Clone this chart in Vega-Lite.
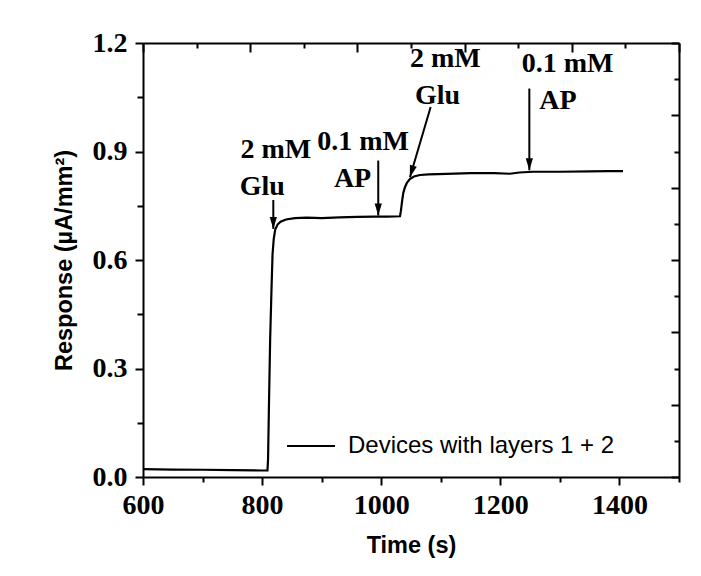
{
  "$schema": "https://vega.github.io/schema/vega-lite/v6.json",
  "width": 536,
  "height": 434,
  "autosize": "none",
  "padding": {"left": 143, "top": 43, "right": 22, "bottom": 99},
  "background": "white",
  "config": {
    "view": {"stroke": null},
    "axis": {
      "labelFont": "Liberation Serif",
      "labelFontWeight": "bold",
      "labelFontSize": 28,
      "labelColor": "black",
      "domainColor": "black",
      "domainWidth": 2,
      "tickColor": "black",
      "tickWidth": 2,
      "titleFont": "Liberation Sans",
      "titleFontWeight": "bold",
      "titleFontSize": 23.5,
      "titleColor": "black",
      "grid": false,
      "labelFlush": false,
      "labelOverlap": false,
      "labelBound": false
    }
  },
  "datasets": {
    "curve": [
      {"time": 600, "response": 0.0215, "series": "Devices with layers 1 + 2"},
      {"time": 650, "response": 0.0205, "series": "Devices with layers 1 + 2"},
      {"time": 700, "response": 0.020, "series": "Devices with layers 1 + 2"},
      {"time": 750, "response": 0.019, "series": "Devices with layers 1 + 2"},
      {"time": 800, "response": 0.018, "series": "Devices with layers 1 + 2"},
      {"time": 809, "response": 0.018, "series": "Devices with layers 1 + 2"},
      {"time": 810, "response": 0.05, "series": "Devices with layers 1 + 2"},
      {"time": 811.5, "response": 0.2, "series": "Devices with layers 1 + 2"},
      {"time": 813.5, "response": 0.38, "series": "Devices with layers 1 + 2"},
      {"time": 815.7, "response": 0.516, "series": "Devices with layers 1 + 2"},
      {"time": 817.5, "response": 0.615, "series": "Devices with layers 1 + 2"},
      {"time": 819.5, "response": 0.658, "series": "Devices with layers 1 + 2"},
      {"time": 822, "response": 0.684, "series": "Devices with layers 1 + 2"},
      {"time": 826, "response": 0.698, "series": "Devices with layers 1 + 2"},
      {"time": 831, "response": 0.706, "series": "Devices with layers 1 + 2"},
      {"time": 840, "response": 0.712, "series": "Devices with layers 1 + 2"},
      {"time": 855, "response": 0.716, "series": "Devices with layers 1 + 2"},
      {"time": 875, "response": 0.717, "series": "Devices with layers 1 + 2"},
      {"time": 900, "response": 0.716, "series": "Devices with layers 1 + 2"},
      {"time": 930, "response": 0.718, "series": "Devices with layers 1 + 2"},
      {"time": 960, "response": 0.719, "series": "Devices with layers 1 + 2"},
      {"time": 990, "response": 0.720, "series": "Devices with layers 1 + 2"},
      {"time": 1010, "response": 0.720, "series": "Devices with layers 1 + 2"},
      {"time": 1031.5, "response": 0.721, "series": "Devices with layers 1 + 2"},
      {"time": 1033, "response": 0.735, "series": "Devices with layers 1 + 2"},
      {"time": 1035, "response": 0.762, "series": "Devices with layers 1 + 2"},
      {"time": 1037, "response": 0.785, "series": "Devices with layers 1 + 2"},
      {"time": 1040, "response": 0.802, "series": "Devices with layers 1 + 2"},
      {"time": 1043, "response": 0.813, "series": "Devices with layers 1 + 2"},
      {"time": 1048, "response": 0.824, "series": "Devices with layers 1 + 2"},
      {"time": 1055, "response": 0.831, "series": "Devices with layers 1 + 2"},
      {"time": 1065, "response": 0.835, "series": "Devices with layers 1 + 2"},
      {"time": 1080, "response": 0.837, "series": "Devices with layers 1 + 2"},
      {"time": 1110, "response": 0.838, "series": "Devices with layers 1 + 2"},
      {"time": 1150, "response": 0.840, "series": "Devices with layers 1 + 2"},
      {"time": 1190, "response": 0.840, "series": "Devices with layers 1 + 2"},
      {"time": 1216, "response": 0.8385, "series": "Devices with layers 1 + 2"},
      {"time": 1232, "response": 0.842, "series": "Devices with layers 1 + 2"},
      {"time": 1255, "response": 0.844, "series": "Devices with layers 1 + 2"},
      {"time": 1300, "response": 0.844, "series": "Devices with layers 1 + 2"},
      {"time": 1350, "response": 0.845, "series": "Devices with layers 1 + 2"},
      {"time": 1380, "response": 0.846, "series": "Devices with layers 1 + 2"},
      {"time": 1406, "response": 0.846, "series": "Devices with layers 1 + 2"}
    ],
    "arrows": [
      {"kind": "vertical", "x1": 818.8, "y1": 0.766, "x2": 818.8, "y2": 0.686},
      {"kind": "vertical", "x1": 995, "y1": 0.875, "x2": 995, "y2": 0.723},
      {"kind": "slanted", "x1": 1083, "y1": 1.023, "x2": 1048.2, "y2": 0.829},
      {"kind": "vertical", "x1": 1248.7, "y1": 1.074, "x2": 1248.7, "y2": 0.848}
    ],
    "notes": [
      {"text": "2 mM", "x": 763.7, "y": 0.881},
      {"text": "Glu", "x": 762.5, "y": 0.779},
      {"text": "0.1 mM", "x": 892.4, "y": 0.903},
      {"text": "AP", "x": 920.5, "y": 0.802},
      {"text": "2 mM", "x": 1048.2, "y": 1.134},
      {"text": "Glu", "x": 1056.6, "y": 1.030},
      {"text": "0.1 mM", "x": 1236, "y": 1.120},
      {"text": "AP", "x": 1265.5, "y": 1.0166}
    ]
  },
  "layer": [
    {
      "data": {"name": "curve"},
      "mark": {"type": "line", "strokeWidth": 2.2},
      "encoding": {
        "x": {
          "field": "time", "type": "quantitative",
          "scale": {"domain": [600, 1500], "nice": false, "zero": false},
          "axis": {
            "orient": "bottom",
            "values": [600, 700, 800, 900, 1000, 1100, 1200, 1300, 1400, 1500],
            "labelExpr": "datum.value % 200 == 0 ? format(datum.value, 'd') : ''",
            "tickSize": {"condition": {"test": "datum.value % 200 == 0", "value": 8}, "value": 5},
            "labelPadding": 6,
            "title": "Time (s)",
            "titlePadding": 14
          }
        },
        "y": {
          "field": "response", "type": "quantitative",
          "scale": {"domain": [0, 1.2], "nice": false, "zero": false},
          "axis": {
            "orient": "left",
            "values": [0, 0.15, 0.3, 0.45, 0.6, 0.75, 0.9, 1.05, 1.2],
            "labelExpr": "round(datum.value * 100) % 30 == 0 ? format(datum.value, '.1f') : ''",
            "tickSize": {"condition": {"test": "round(datum.value * 100) % 30 == 0", "value": 8}, "value": 6},
            "labelPadding": 8,
            "title": "Response (µA/mm²)",
            "titlePadding": 16
          }
        },
        "color": {
          "field": "series", "type": "nominal",
          "scale": {"range": ["black"]},
          "legend": {
            "orient": "none",
            "legendX": 143,
            "legendY": 378,
            "title": null,
            "symbolType": "stroke",
            "symbolSize": 2304,
            "symbolStrokeWidth": 2,
            "labelFont": "Liberation Sans",
            "labelFontSize": 24,
            "labelColor": "black",
            "labelOffset": 12,
            "labelLimit": 400,
            "padding": 0
          }
        }
      }
    },
    {
      "data": {"name": "curve"},
      "mark": {"type": "line", "strokeOpacity": 0},
      "encoding": {
        "x": {
          "field": "time", "type": "quantitative",
          "axis": {
            "orient": "top",
            "values": [600, 690, 780, 870, 960, 1050, 1140, 1230, 1320, 1410, 1500],
            "labels": false,
            "title": null,
            "tickSize": {"condition": {"test": "(datum.value - 600) % 180 == 0", "value": -9}, "value": -5}
          }
        },
        "y": {
          "field": "response", "type": "quantitative",
          "axis": {
            "orient": "right",
            "values": [0, 0.1, 0.2, 0.3, 0.4, 0.5, 0.6, 0.7, 0.8, 0.9, 1.0, 1.1, 1.2],
            "labels": false,
            "title": null,
            "tickSize": {"condition": {"test": "round(datum.value * 10) % 2 == 0", "value": -8}, "value": -5}
          }
        }
      }
    },
    {
      "data": {"name": "arrows"},
      "mark": {"type": "rule", "strokeWidth": 2, "color": "black"},
      "encoding": {
        "x": {"field": "x1", "type": "quantitative", "axis": null},
        "y": {"field": "y1", "type": "quantitative", "axis": null},
        "x2": {"field": "x2"},
        "y2": {"field": "y2"}
      }
    },
    {
      "data": {"name": "arrows"},
      "transform": [{"filter": "datum.kind == 'vertical'"}],
      "mark": {"type": "point", "shape": "M0,0 L-0.3,-1 L0.3,-1 Z", "size": 576, "filled": true, "color": "black", "opacity": 1},
      "encoding": {
        "x": {"field": "x2", "type": "quantitative", "axis": null},
        "y": {"field": "y2", "type": "quantitative", "axis": null}
      }
    },
    {
      "data": {"name": "arrows"},
      "transform": [{"filter": "datum.kind == 'slanted'"}],
      "mark": {"type": "point", "shape": "M0,0 L-0.3,-1 L0.3,-1 Z", "size": 576, "filled": true, "color": "black", "opacity": 1, "angle": 16.5},
      "encoding": {
        "x": {"field": "x2", "type": "quantitative", "axis": null},
        "y": {"field": "y2", "type": "quantitative", "axis": null}
      }
    },
    {
      "data": {"name": "notes"},
      "mark": {"type": "text", "align": "left", "baseline": "alphabetic", "font": "Liberation Serif", "fontWeight": "bold", "fontSize": 28, "color": "black"},
      "encoding": {
        "x": {"field": "x", "type": "quantitative", "axis": null},
        "y": {"field": "y", "type": "quantitative", "axis": null},
        "text": {"field": "text"}
      }
    }
  ],
  "resolve": {"axis": {"x": "independent", "y": "independent"}}
}
